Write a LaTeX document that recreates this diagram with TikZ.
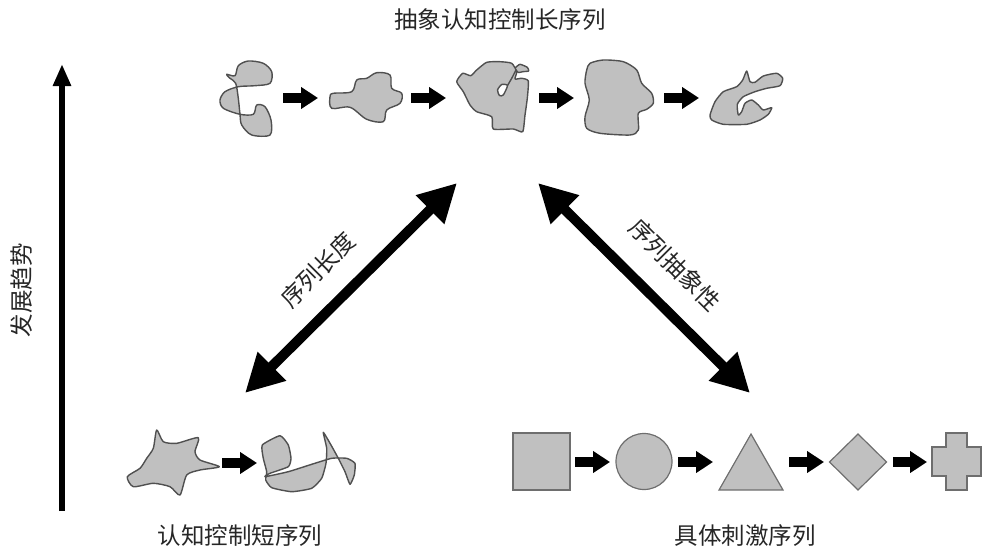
\documentclass[tikz,border=0pt]{standalone}
\usepackage{fontspec}
\newfontfamily\cjk{Noto Sans CJK SC}
\usetikzlibrary{arrows.meta}
\definecolor{blobfill}{HTML}{C0C0C0}
\definecolor{blobline}{HTML}{505050}
\definecolor{geoline}{HTML}{6E6E6E}
\begin{document}
\begin{tikzpicture}[x=1pt,y=-1pt,
  blob/.style={fill=blobfill, draw=blobline, line width=1.4pt, line join=round},
  geo/.style={fill=blobfill, draw=geoline, line width=1.2pt},
  blk/.style={line width=10pt, -{Triangle[length=17pt,width=21pt]}},
  big/.style={line width=10pt, {Triangle[length=38pt,width=38pt]}-{Triangle[length=38pt,width=38pt]}},
  vert/.style={line width=6pt, -{Triangle[length=22pt,width=17pt]}},
  lbl/.style={font=\cjk\fontsize{23.5}{27}\selectfont, text=black!85, inner sep=0pt}]
\useasboundingbox (0,0) rectangle (987,551);

% ---- labels
\node[lbl] (title) at (500,20) {抽象认知控制长序列};
\node[lbl, rotate=90] (trend) at (22,290) {发展趋势};
\node[lbl] (short) at (240,536) {认知控制短序列};
\node[lbl] (concrete) at (745,536) {具体刺激序列};
\node[lbl, rotate=45] (len) at (318,270) {序列长度};
\node[lbl, rotate=-45] (abs) at (675,265) {序列抽象性};

% ---- vertical development arrow
\coordinate (vb) at (62,511);
\coordinate (vt) at (62,64);
\draw[vert] (vb) -- (vt);

% ---- big double arrows
\coordinate (L1) at (245,393);
\coordinate (L2) at (457,183);
\coordinate (R1) at (538,183);
\coordinate (R2) at (750,393);
\draw[big] (L1) -- (L2);
\draw[big] (R1) -- (R2);

% ---- top row blobs
\draw[blob] plot[smooth cycle, tension=0.5] coordinates {
 (226.7,74.3) (235,75.7) (238.3,65.7) (248.3,61) (263.3,63.3) (271.7,71.7) (270,83.3)
 (255,85.7) (238.3,86.7) (225,91.7) (220,100) (223.3,108.3) (240,114.3) (253.3,114.3)
 (256.7,105) (265,106.7) (271,120) (270,135) (251.7,135) (241.7,125) (240,114.3)
 (238.3,98.3) (235.7,83.3) (230,78.3)};
\draw[blob] plot[smooth cycle, tension=0.55] coordinates {
 (330,96.7) (331.7,108.3) (350,107.3) (366.7,119.3) (383.3,121.7) (386.7,110) (400,103.3)
 (401.7,93.3) (391.7,88.3) (390,75) (376.7,72.7) (366.7,78.3) (356.7,80) (351.7,91.7) (333.3,93.3)};
\draw[blob] plot[smooth cycle, tension=0.3] coordinates {
 (515,68.3) (520,64.3) (527.3,67.3) (528.7,71) (522.7,71.7) (518.3,72.5)};
\draw[blob] plot[smooth cycle, tension=0.35] coordinates {
 (456.7,81.7) (462.7,73.3) (470.7,75.7) (476.7,70) (486.7,62.3) (500,61.7) (511.7,63.3)
 (516.7,71.7) (515,79) (521.7,78.3) (528.3,81) (527.3,98.3) (525,115) (522.7,131.7)
 (513.3,129) (493.3,129) (491.7,116.7) (476.7,111.7) (470,105) (463.3,91.7)};
\draw[blob, fill=white] plot[smooth cycle, tension=0.4] coordinates {
 (497.5,90) (501.7,84.5) (507.5,85.5) (503.3,95) (499.5,95.5)};
\draw[blobline, line width=1.4pt] plot[smooth, tension=0.5] coordinates {
 (507.5,85.5) (511.7,78.3) (516,70)};
\draw[blob] plot[smooth cycle, tension=0.45] coordinates {
 (590,63.3) (603.3,60) (623.3,61.7) (636.7,70) (641.7,83.3) (651.7,93.3) (653.3,103.3)
 (646.7,109.3) (638.3,113.3) (638.3,130) (630,135) (600,133.3) (586.7,128.3) (585,116.7)
 (589.3,100) (585,83.3) (586.7,70)};
\draw[blob] plot[smooth cycle, tension=0.35] coordinates {
 (710,115) (715,101.7) (723.3,91.7) (736.7,86.7) (742.7,80) (746.7,71) (750,81.7)
 (755,82.3) (763.3,76) (776.7,73.3) (782.7,78.3) (780,85.7) (766.7,88.3) (755,91.7)
 (743.3,96.7) (737.3,104.3) (738.3,115) (741.7,111.7) (745,103.3) (751.7,100)
 (758.3,105) (763.3,110) (771.7,107.7) (768.3,114.3) (760,120) (746.7,124.3)
 (723.3,124.3) (711.7,120)};

% ---- top row arrows
\coordinate (t1a) at (283,98); \coordinate (t1b) at (318,98);
\coordinate (t2a) at (411,98); \coordinate (t2b) at (446,98);
\coordinate (t3a) at (539,98); \coordinate (t3b) at (574,98);
\coordinate (t4a) at (664,98); \coordinate (t4b) at (699,98);
\draw[blk] (t1a) -- (t1b);
\draw[blk] (t2a) -- (t2b);
\draw[blk] (t3a) -- (t3b);
\draw[blk] (t4a) -- (t4b);

% ---- bottom left blobs
\draw[blob] plot[smooth cycle, tension=0.4] coordinates {
 (156.7,430) (163.3,441.7) (176.7,443.3) (198.3,437.7) (195,451.7) (200,460) (219.3,466.7)
 (200,470) (186.7,475) (180,495) (170,486.7) (153.3,483.3) (133.3,486.7) (127.3,476.7)
 (140,468.3) (146.7,458.3) (153.3,448.3)};
\draw[blob] plot[smooth cycle, tension=0.3] coordinates {
 (262.3,445) (280,435.7) (288.3,445) (291,458.3) (288.3,466.7) (270,473.3) (265,476.7)
 (288.3,471.7) (311.7,464.3) (331.7,458.3) (346.7,458.3) (355,463.3) (354.3,475) (350,484.3)
 (345,471.7) (338.3,458.3) (331,445) (323.3,432.3) (326.7,448.3) (326,463.3) (321.7,478.3)
 (311.7,488.3) (291.7,491.7) (271.7,487.7) (265.7,480) (266.7,471.7) (263.3,458.3)};
\coordinate (b1a) at (222,463); \coordinate (b1b) at (257,463);
\draw[blk] (b1a) -- (b1b);

% ---- bottom right shapes
\draw[geo] (513,433) rectangle (570,490);
\draw[geo] (644,461.5) circle (28);
\draw[geo] (751,434) -- (783,490) -- (719,490) -- cycle;
\draw[geo] (858,434) -- (886.5,462) -- (858,490) -- (829.5,462) -- cycle;
\draw[geo] (946,433) -- (967,433) -- (967,447) -- (981,447) -- (981,476) -- (967,476)
  -- (967,490) -- (946,490) -- (946,476) -- (932,476) -- (932,447) -- (946,447) -- cycle;
\coordinate (c1a) at (575,462); \coordinate (c1b) at (610,462);
\coordinate (c2a) at (678,462); \coordinate (c2b) at (713,462);
\coordinate (c3a) at (789,462); \coordinate (c3b) at (824,462);
\coordinate (c4a) at (893,462); \coordinate (c4b) at (927,462);
\draw[blk] (c1a) -- (c1b);
\draw[blk] (c2a) -- (c2b);
\draw[blk] (c3a) -- (c3b);
\draw[blk] (c4a) -- (c4b);
\end{tikzpicture}
\end{document}
